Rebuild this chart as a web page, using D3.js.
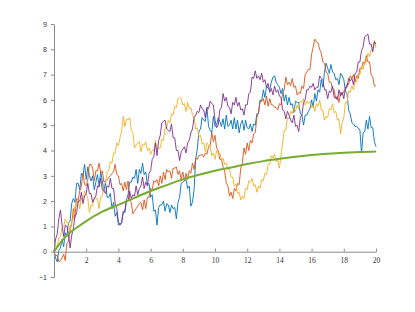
<!DOCTYPE html>
<html>
<head>
<meta charset="utf-8">
<script src="https://cdn.jsdelivr.net/npm/d3@7"></script>
<style>
  body { margin: 0; background: #fff; }
  svg { display: block; }
</style>
</head>
<body>
<div id="chart"></div>
<script>
// sample spacing of the walks (x = index * tStep)
var tStep = 0.1;

var blueWalk = [0,-0.25,-0.4,0.05,0.15,0.5,0.2,0.75,0.6,1.15,1.2,1.9,2.1,1.95,2.7,2.7,2.45,3.1,3.0,3.45,
  2.85,3.35,3.0,2.8,3.0,2.45,2.75,3.05,2.6,3.15,2.8,2.4,2.75,2.15,2.15,2.3,1.7,1.95,1.4,1.55,
  1.05,1.1,1.15,1.55,1.55,2.05,2.25,2.75,2.75,2.95,2.9,3.25,2.7,3.25,3.1,3.5,3.05,3.15,2.65,2.7,
  2.15,2.25,1.6,1.65,1.05,1.75,1.85,1.85,2.0,1.6,1.9,1.85,1.55,1.85,1.7,1.75,1.3,1.95,2.15,2.7,
  2.75,2.8,2.85,2.5,2.6,1.8,1.95,2.45,3.65,4.05,4.75,4.85,5.3,5.2,5.15,5.7,4.95,4.8,4.7,5.35,
  4.95,5.0,5.3,5.15,4.95,5.25,4.85,5.4,4.95,5.0,5.2,4.85,5.3,4.85,5.2,4.7,5.05,5.2,4.8,5.2,
  4.9,4.85,5.05,4.75,5.05,5.0,5.45,5.45,6.0,5.95,6.4,6.1,6.55,6.45,6.4,6.7,6.9,6.95,6.7,6.6,
  6.5,6.25,6.45,5.95,6.2,5.8,6.1,5.8,5.85,5.5,5.95,5.9,5.9,5.45,5.4,5.0,5.4,5.4,5.55,5.65,
  6.0,5.7,6.25,5.95,6.4,6.3,6.8,6.5,7.1,7.45,7.25,7.05,7.4,7.1,7.05,6.8,6.85,6.6,7.05,6.95,
  6.8,6.35,6.25,5.6,5.45,5.1,5.05,4.95,4.95,4.9,4.8,3.9,4.7,4.75,5.2,4.85,5.35,4.9,4.9,4.35,
  4.15];

var orangeWalk = [0,-0.15,-0.15,-0.4,-0.35,-0.25,-0.1,-0.35,0.35,0.4,0.9,1.1,1.7,1.35,2.1,2.05,2.4,2.6,3.1,2.65,
  2.6,2.85,3.45,3.45,3.3,2.8,3.2,3.2,3.5,3.1,3.2,2.75,2.8,2.85,2.95,3.0,3.1,3.15,3.45,3.05,
  3.0,2.65,2.7,2.4,2.75,2.45,2.8,2.1,1.95,1.5,1.6,1.7,1.8,1.9,1.95,1.65,2.05,1.7,2.15,2.15,
  2.5,2.45,2.8,2.75,2.85,2.6,3.0,2.7,3.15,2.85,3.25,3.15,3.2,2.9,3.3,3.3,3.35,3.05,3.2,2.85,
  3.15,2.8,3.1,2.85,3.2,3.1,3.5,3.25,3.7,3.65,3.8,3.8,3.85,3.75,3.9,3.85,4.15,4.2,4.7,4.35,
  4.6,4.1,4.0,3.65,3.65,3.35,3.2,2.7,2.6,2.2,2.35,2.1,2.5,2.4,2.7,2.65,3.3,3.5,4.1,3.85,
  4.3,4.0,4.4,4.3,4.65,4.7,5.3,5.5,5.95,5.95,6.05,5.8,6.15,5.75,6.05,5.8,5.8,5.7,5.7,5.6,
  5.85,5.8,6.3,6.4,6.9,6.6,6.7,6.55,6.85,6.5,6.55,6.2,6.3,6.25,6.55,6.45,7.0,7.1,7.2,7.2,
  7.8,8.1,8.4,8.3,8.25,8.0,7.85,7.5,7.45,7.1,7.05,6.7,6.7,6.45,6.4,6.05,6.15,5.9,6.3,6.2,
  6.35,6.35,6.65,6.6,6.95,6.85,7.0,6.7,6.95,6.85,7.25,7.25,7.5,7.4,7.75,7.5,7.5,7.0,6.9,6.55,
  6.55];

var yellowWalk = [0,0.25,0.2,0.55,0.6,0.95,1.0,1.3,1.15,1.15,0.75,1.2,1.3,1.8,1.9,2.05,1.7,2.1,2.1,2.4,
  2.3,2.1,1.55,1.85,1.8,2.15,2.1,2.1,1.7,2.15,2.2,2.65,2.7,3.15,3.2,3.55,3.5,3.9,3.9,4.3,
  4.2,4.5,4.75,5.35,4.95,5.25,5.2,5.3,4.8,4.7,4.1,4.2,4.3,4.35,3.95,4.25,4.2,4.35,4.0,4.1,
  3.85,4.0,4.0,4.4,4.05,4.1,4.1,4.45,4.4,4.9,4.9,5.2,5.1,5.45,5.4,5.75,5.7,6.05,6.1,6.05,
  5.8,5.85,5.55,5.9,5.65,5.7,5.4,5.3,4.85,4.9,4.55,4.6,4.25,4.3,3.95,4.3,4.2,4.2,3.8,3.9,
  3.65,4.0,3.9,3.9,3.6,3.7,3.45,3.5,3.25,3.3,2.95,2.95,2.6,2.65,2.3,2.35,2.05,2.2,2.1,2.5,
  2.45,2.8,2.75,2.9,2.6,2.65,2.35,2.6,2.5,2.85,2.8,3.1,3.05,3.45,3.45,3.8,3.7,3.85,3.55,3.65,
  3.3,3.8,4.3,4.8,4.8,5.3,5.25,5.55,5.45,5.7,5.55,5.8,5.65,5.95,5.9,6.05,5.8,5.95,5.85,5.95,
  5.7,5.8,5.55,5.85,5.75,6.0,5.6,5.6,5.2,5.35,5.3,5.65,5.6,5.85,5.5,5.55,5.2,5.25,4.65,5.1,
  5.3,5.9,5.9,6.35,6.3,6.55,6.4,6.75,6.7,7.05,7.0,7.3,7.2,7.55,7.5,7.85,7.7,8.0,8.05,8.35,
  8.05];

var purpleWalk = [0,0.5,0.7,1.3,1.65,1.05,0.6,1.05,1.0,0.7,0.15,0.65,0.9,1.4,1.5,2.0,2.0,2.35,1.9,2.2,
  2.3,2.7,2.3,2.3,1.95,2.1,2.2,2.6,2.55,2.9,2.45,2.4,2.3,2.6,2.55,2.9,2.5,2.5,1.9,1.7,
  1.2,1.05,1.15,1.6,1.6,2.0,2.0,2.4,2.1,2.25,2.2,2.6,2.25,2.5,2.6,2.95,2.5,2.75,2.6,3.1,
  3.2,3.65,3.75,4.3,3.8,4.4,4.6,5.1,5.15,5.2,4.85,4.8,4.75,5.05,4.5,4.5,4.0,4.0,3.6,3.95,
  4.05,4.15,3.9,4.3,4.4,4.7,4.85,5.3,5.4,5.55,5.5,5.8,5.65,5.6,5.3,5.7,5.65,5.95,5.85,5.8,
  5.2,4.9,5.0,5.6,5.7,6.25,5.95,6.1,5.75,5.7,5.45,5.9,5.8,6.1,5.75,5.9,5.6,5.65,5.4,5.8,
  5.8,6.25,6.3,6.9,6.85,7.15,6.85,6.95,6.8,7.05,6.7,6.8,6.5,6.65,6.3,6.45,6.2,6.55,6.3,6.4,
  6.15,6.1,5.6,5.55,5.25,5.55,5.4,5.2,5.1,5.4,4.95,5.0,4.75,5.3,5.4,5.9,6.0,6.4,6.4,6.55,
  6.5,6.65,6.4,6.5,6.5,6.95,6.85,6.8,6.4,6.4,6.05,6.35,6.3,6.55,6.1,6.1,6.0,6.4,6.15,6.3,
  6.05,6.5,6.5,6.85,6.75,6.85,6.6,7.05,7.1,7.5,7.5,7.95,8.1,8.5,8.55,8.6,8.2,8.2,7.9,8.3,
  8.2];

// smooth reference curve
var greenX = [0,0.5,1,1.5,2,3,4,5,6,7,8,9,10,11,12,13,14,15,16,17,18,19,20];
var greenY = [0,0.44,0.76,0.99,1.21,1.58,1.85,2.13,2.4,2.63,2.86,3.04,3.2,3.33,3.47,3.58,3.67,3.75,3.82,3.87,3.91,3.94,3.96];

var xTicks = [2,4,6,8,10,12,14,16,18,20];
var yTicks = [-1,0,1,2,3,4,5,6,7,8,9];

var walks = [
  {name: "blue", color: "#0072BD", values: blueWalk},
  {name: "orange", color: "#D95319", values: orangeWalk},
  {name: "yellow", color: "#EDB120", values: yellowWalk},
  {name: "purple", color: "#7E2F8E", values: purpleWalk}
];

var width = 415, height = 312;

var svg = d3.select("#chart").append("svg")
  .attr("width", width)
  .attr("height", height);

var x = d3.scaleLinear().domain([0, 20]).range([54, 376]);
var y = d3.scaleLinear().domain([-1, 9]).range([277, 24]);

var line = d3.line()
  .x(function(d, i) { return x(i * tStep); })
  .y(function(d) { return y(d); });

svg.selectAll("path.walk")
  .data(walks)
  .enter()
  .append("path")
  .attr("class", "walk")
  .attr("fill", "none")
  .attr("stroke", function(d) { return d.color; })
  .attr("stroke-width", 0.9)
  .attr("stroke-linejoin", "round")
  .attr("d", function(d) { return line(d.values); });

var greenLine = d3.line()
  .curve(d3.curveMonotoneX)
  .x(function(d, i) { return x(greenX[i]); })
  .y(function(d) { return y(d); });

svg.append("path")
  .attr("fill", "none")
  .attr("stroke", "#77AC30")
  .attr("stroke-width", 2)
  .attr("d", greenLine(greenY));

// axes: y at x=0, x at y=0 (ticks pointing up)
var yAxis = svg.append("g")
  .attr("transform", "translate(" + x(0) + ",0)")
  .call(d3.axisLeft(y).tickValues(yTicks).tickSize(3).tickPadding(4).tickSizeOuter(0));

var xAxis = svg.append("g")
  .attr("transform", "translate(0," + y(0) + ")")
  .call(d3.axisBottom(x).tickValues(xTicks).tickSize(-3).tickPadding(6).tickSizeOuter(0));

[yAxis, xAxis].forEach(function(g) {
  g.select(".domain").attr("stroke", "#8a8a8a");
  g.selectAll(".tick line").attr("stroke", "#8a8a8a");
  g.selectAll(".tick text").attr("fill", "#333");
});

yAxis.selectAll(".tick text")
  .style("font-family", "'Liberation Sans', Arial, sans-serif")
  .style("font-size", "7px");

xAxis.selectAll(".tick text")
  .style("font-family", "'Liberation Serif', 'DejaVu Serif', serif")
  .style("font-size", "7.5px");
</script>
</body>
</html>
